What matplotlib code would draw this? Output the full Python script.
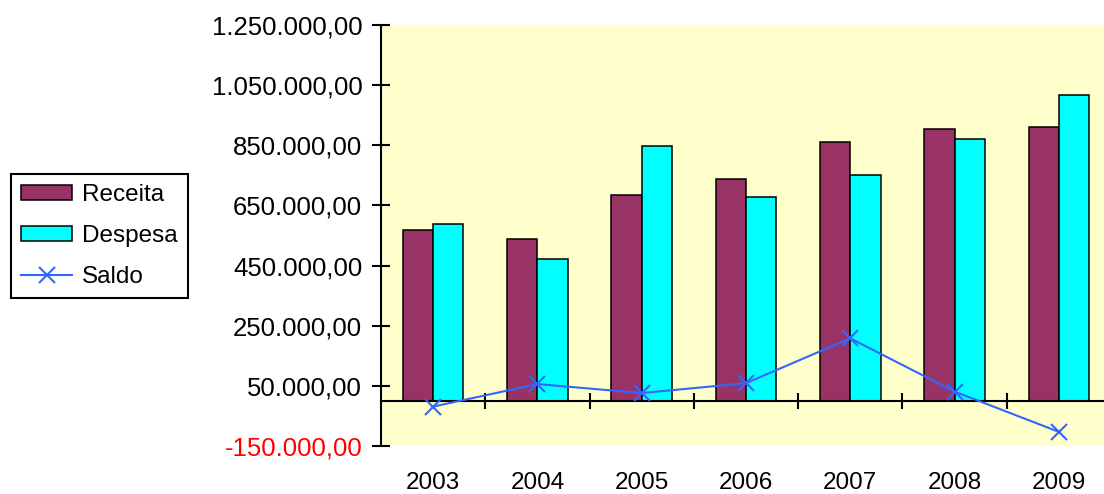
import matplotlib
matplotlib.use("Agg")
import matplotlib.pyplot as plt
import numpy as np
from matplotlib.patches import Patch
from matplotlib.lines import Line2D

plt.rcParams["font.family"] = ["Liberation Sans", "DejaVu Sans"]

# ── Data ──────────────────────────────────────────────────────────────────────
years = ["2003", "2004", "2005", "2006", "2007", "2008", "2009"]
receita = [569000, 537000, 685000, 737000, 861000, 905000, 911000]
despesa = [588000, 471000, 847000, 679000, 750000, 872000, 1017000]
saldo = [-19000, 56000, 26000, 59000, 208000, 31000, -103000]
yticks = [-150000, 50000, 250000, 450000, 650000, 850000, 1050000, 1250000]

C_REC = "#993366"
C_DES = "#00FFFF"
C_SAL = "#3366FF"
BG = "#FFFFCC"

def br_fmt(v):
    s = f"{v:,.2f}"
    return s.replace(",", "X").replace(".", ",").replace("X", ".")

W, H = 1104, 494
fig = plt.figure(figsize=(W / 100, H / 100), dpi=100)
ax = fig.add_axes([381 / W, 48 / H, 730 / W, 421 / H])
ax.set_facecolor(BG)

x = np.arange(len(years)) + 0.5
bw = 0.29
ax.bar(x - bw / 2, receita, bw, color=C_REC, edgecolor="black", linewidth=1.1, zorder=2)
ax.bar(x + bw / 2, despesa, bw, color=C_DES, edgecolor="black", linewidth=1.1, zorder=2)
ax.plot(x, saldo, color=C_SAL, lw=1.5, marker="x", ms=12, mew=1.5, zorder=4)

ax.set_xlim(0, len(years))
ax.set_ylim(yticks[0], yticks[-1])

# y axis
ax.set_yticks(yticks)
ax.set_yticklabels([br_fmt(v) for v in yticks])
ax.tick_params(axis="y", direction="inout", length=13, width=1.5, labelsize=18.5, pad=7)
for lbl, v in zip(ax.get_yticklabels(), yticks):
    lbl.set_color("red" if v < 0 else "black")

# x axis drawn at zero
ax.spines["bottom"].set_position(("data", 0))
ax.spines["bottom"].set_linewidth(1.5)
ax.spines["left"].set_linewidth(1.5)
ax.spines["top"].set_visible(False)
ax.spines["right"].set_visible(False)
ax.spines["bottom"].set_zorder(3)
ax.set_xticks(x)
ax.set_xticklabels(years)
ax.set_xticks(np.arange(1, len(years)), minor=True)
ax.tick_params(axis="x", which="major", length=0, labelsize=17.5, pad=51)
ax.tick_params(axis="x", which="minor", direction="inout", length=12, width=1.5)

handles = [
    Patch(facecolor=C_REC, edgecolor="black", linewidth=1.1, label="Receita"),
    Patch(facecolor=C_DES, edgecolor="black", linewidth=1.1, label="Despesa"),
    Line2D([], [], color=C_SAL, lw=1.5, marker="x", ms=12, mew=1.5, label="Saldo"),
]
leg = fig.legend(handles=handles, loc="upper left", bbox_to_anchor=(11 / W, 1 - 174 / H),
                 borderaxespad=0, fontsize=17.5, handlelength=2.1, handleheight=0.55,
                 handletextpad=0.4, labelspacing=0.77, borderpad=0.42,
                 fancybox=False, framealpha=1, edgecolor="black")
leg.get_frame().set_linewidth(1.5)

fig.savefig("out.png", dpi=100)
